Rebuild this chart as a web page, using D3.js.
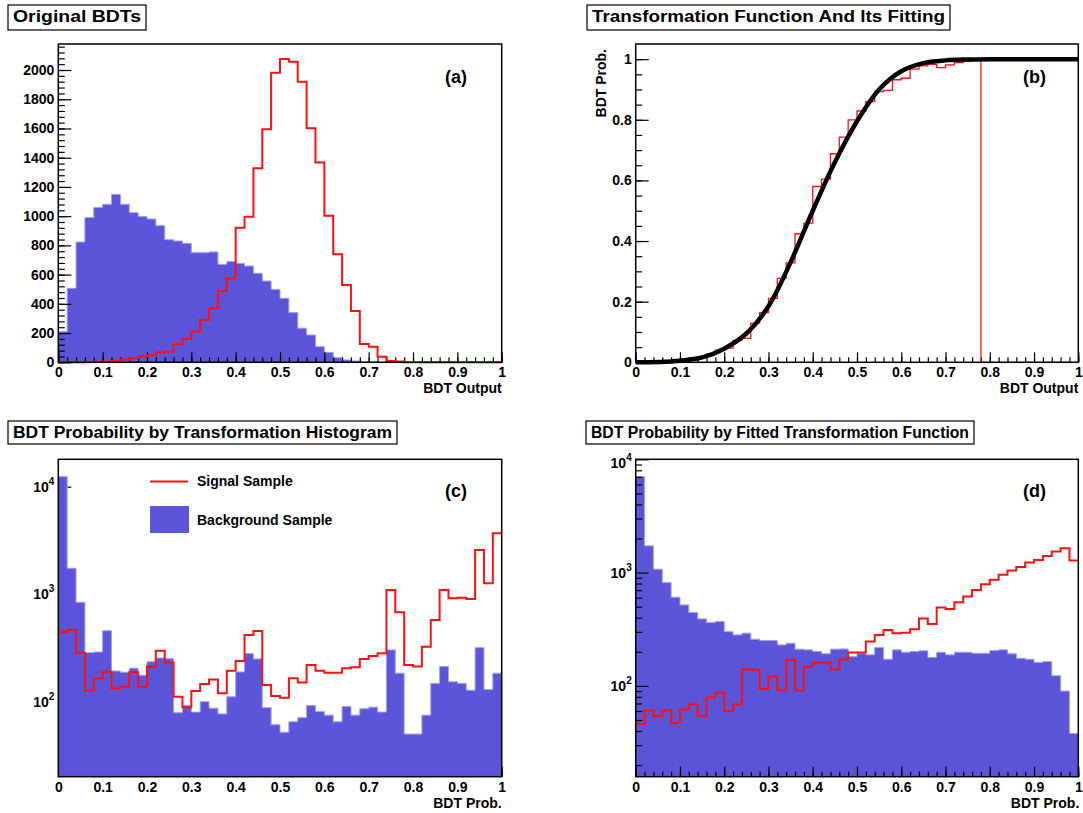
<!DOCTYPE html>
<html>
<head>
<meta charset="utf-8">
<script src="https://cdn.jsdelivr.net/npm/d3@7"></script>
<style>
  body { margin: 0; background: #fff; }
  svg text { font-family: "Liberation Sans", Arial, Helvetica, sans-serif; font-weight: bold; fill: #000; }
</style>
</head>
<body>
<svg id="chart" width="1083" height="813"></svg>
<script>
// ---------------- data ----------------
const binWidth = 0.02;                       // 50 bins on [0, 1]
const xTickLabels = ["0", "0.1", "0.2", "0.3", "0.4", "0.5", "0.6", "0.7", "0.8", "0.9", "1"];
const countTickLabels = ["0", "200", "400", "600", "800", "1000", "1200", "1400", "1600", "1800", "2000"];
const probTickLabels = ["0", "0.2", "0.4", "0.6", "0.8", "1"];
const logTickValues = [100, 1000, 10000];
const logTickExponents = ["2", "3", "4"];
const logMinorTicks = [20, 30, 40, 50, 60, 70, 80, 90, 200, 300, 400, 500, 600, 700, 800, 900,
                       2000, 3000, 4000, 5000, 6000, 7000, 8000, 9000];

// (a) original BDT output
const backgroundBDT = [210, 506, 823, 990, 1060, 1081, 1149, 1081, 1024, 997,
                       981, 935, 839, 830, 814, 750, 750, 755, 670, 689,
                       677, 659, 609, 556, 499, 438, 340, 233, 187, 107,
                       68, 31, 16, 9, 5, 3, 2, 1, 0, 0,
                       0, 0, 0, 0, 0, 0, 0, 0, 0, 0];
const signalBDT = [0, 0, 1, 2, 3, 5, 9, 20, 27, 39,
                   48, 68, 73, 123, 160, 210, 289, 369, 488, 575,
                   921, 996, 1327, 1594, 1982, 2075, 2057, 1920, 1601, 1368,
                   1003, 739, 529, 351, 125, 107, 38, 9, 5, 0,
                   0, 0, 0, 0, 0, 0, 0, 0, 0, 0];

// (b) transformation histogram and its fitted function
const transformHist = [0, 0, 0.001, 0.002, 0.003, 0.005, 0.008, 0.018, 0.026, 0.04,
                       0.047, 0.072, 0.079, 0.129, 0.164, 0.211, 0.277, 0.328, 0.424, 0.459,
                       0.58, 0.604, 0.688, 0.743, 0.80, 0.829, 0.86, 0.893, 0.897, 0.932,
                       0.937, 0.967, 0.978, 0.983, 0.972, 0.981, 0.989, 0.994, 1.0, 0,
                       0, 0, 0, 0, 0, 0, 0, 0, 0, 0];
const fitX = [0, 0.05, 0.1, 0.15, 0.2, 0.25, 0.3, 0.35, 0.4, 0.45, 0.5, 0.55, 0.6, 0.65, 0.7, 0.75, 0.8, 0.9, 1.0];
const fitY = [0, 0.001, 0.005, 0.016, 0.045, 0.095, 0.185, 0.33, 0.5, 0.66, 0.795, 0.9, 0.96, 0.987, 0.996, 0.999, 1, 1, 1];

// (c) probability from the transformation histogram
const backgroundProbHist = [12400, 1742, 841, 286, 290, 457, 193, 188, 205, 176,
                            235, 255, 251, 79, 92, 80, 100, 87, 77, 111,
                            189, 280, 250, 88, 61, 52, 65, 71, 92, 81,
                            75, 65, 90, 75, 86, 89, 80, 303, 184, 50,
                            50, 75, 148, 212, 153, 148, 128, 318, 130, 184];
const signalProbHist = [443, 464, 286, 127, 165, 190, 133, 138, 188, 138,
                        212, 298, 231, 111, 89, 126, 146, 161, 120, 194,
                        239, 417, 455, 143, 113, 109, 165, 151, 219, 194,
                        186, 186, 205, 209, 250, 266, 282, 1094, 678, 219,
                        212, 325, 575, 1094, 916, 929, 902, 2576, 1262, 3690];

// (d) probability from the fitted transformation function
const backgroundProbFit = [7030, 1722, 1072, 816, 607, 519, 444, 390, 362, 370,
                           301, 282, 292, 258, 251, 251, 230, 238, 211, 208,
                           201, 192, 211, 212, 181, 194, 188, 218, 172, 208,
                           198, 201, 204, 178, 198, 188, 198, 198, 194, 194,
                           205, 208, 192, 175, 172, 161, 164, 123, 90, 38];
const signalProbFit = [46, 61, 54, 61, 47, 62, 69, 54, 79, 87,
                       60, 69, 140, 138, 94, 121, 91, 170, 91, 148,
                       161, 161, 140, 170, 197, 197, 246, 282, 312, 292,
                       295, 316, 393, 352, 491, 478, 548, 614, 703, 789,
                       863, 955, 1042, 1122, 1225, 1294, 1403, 1532, 1641, 1276];

// ---------------- style ----------------
const BLUE = "#5a55d9";
const BLUE_EDGE = "#a19eef";
const RED = "#ff1010";

const svg = d3.select("#chart");
svg.append("rect").attr("width", 1083).attr("height", 813).attr("fill", "#fff");

const frames = {
  a: { left: 58.3, right: 501.7, top: 44, bottom: 362.3 },
  b: { left: 635.7, right: 1078.3, top: 44, bottom: 362.3 },
  c: { left: 58.3, right: 501.7, top: 459.3, bottom: 776.7 },
  d: { left: 635.7, right: 1078.3, top: 459.3, bottom: 776.7 }
};

const xMajor = xTickLabels.map(Number);
const xMinor = d3.range(0, 1.0001, binWidth);

function makeX(f) { return d3.scaleLinear().domain([0, 1]).range([f.left, f.right]); }

function binPoints(vals) {
  const pts = vals.map((v, i) => [i * binWidth, v]);
  pts.push([vals.length * binWidth, vals[vals.length - 1]]);
  return pts;
}

function drawFill(g, vals, x, y, f) {
  const pts = binPoints(vals);
  g.append("path")
    .attr("d", d3.area().x(d => x(d[0])).y0(f.bottom).y1(d => y(d[1])).curve(d3.curveStepAfter)(pts))
    .attr("fill", BLUE);
  g.append("path")
    .attr("d", d3.line().x(d => x(d[0])).y(d => y(d[1])).curve(d3.curveStepAfter)(pts))
    .attr("fill", "none").attr("stroke", BLUE_EDGE).attr("stroke-width", 1);
}

// histogram outline; the end drops to the baseline only when asked
function drawStep(g, vals, x, y, base, width, closeEnds) {
  let pts = binPoints(vals);
  if (closeEnds) pts = [[0, base]].concat(pts, [[vals.length * binWidth, base]]);
  g.append("path")
    .attr("d", d3.line().x(d => x(d[0])).y(d => y(d[1])).curve(d3.curveStepAfter)(pts))
    .attr("fill", "none").attr("stroke", RED).attr("stroke-width", width)
    .attr("stroke-linejoin", "miter");
}

function styleAxis(sel) {
  sel.select(".domain").remove();
  sel.selectAll("line").attr("stroke", "#000").attr("stroke-width", 1.2);
  sel.selectAll("text").attr("font-size", 14).attr("font-family", null).attr("fill", "#000");
}

function xAxes(g, f, x) {
  const gx = g.append("g").attr("transform", `translate(0,${f.bottom})`);
  gx.append("g").call(d3.axisBottom(x).tickValues(xMinor).tickSize(-5).tickSizeOuter(0).tickFormat(""))
    .call(styleAxis);
  gx.append("g").call(d3.axisBottom(x).tickValues(xMajor).tickSize(-10).tickSizeOuter(0).tickPadding(5)
      .tickFormat((d, i) => xTickLabels[i]))
    .call(styleAxis);
}

function yLinearAxes(g, f, y, majorLabels, minorValues) {
  const gy = g.append("g").attr("transform", `translate(${f.left},0)`);
  gy.append("g").call(d3.axisLeft(y).tickValues(minorValues).tickSize(-6.5).tickSizeOuter(0).tickFormat(""))
    .call(styleAxis);
  gy.append("g").call(d3.axisLeft(y).tickValues(majorLabels.map(Number)).tickSize(-13).tickSizeOuter(0)
      .tickPadding(4).tickFormat((d, i) => majorLabels[i]))
    .call(styleAxis);
}

function yLogAxes(g, f, y) {
  const [lo, hi] = y.domain();
  const gy = g.append("g").attr("transform", `translate(${f.left},0)`);
  gy.append("g").call(d3.axisLeft(y).tickValues(logMinorTicks.filter(v => v >= lo && v <= hi))
      .tickSize(-6.5).tickSizeOuter(0).tickFormat(""))
    .call(styleAxis);
  gy.append("g").call(d3.axisLeft(y).tickValues(logTickValues.filter(v => v >= lo && v <= hi))
      .tickSize(-13).tickSizeOuter(0).tickFormat(""))
    .call(styleAxis);
}

function yLogLabels(g, f, y) {
  const [lo, hi] = y.domain();
  logTickValues.forEach((v, i) => {
    if (v < lo || v > hi * 1.001) return;
    let yy = y(v);
    if (yy - f.top < 3) yy += 4;
    const t = g.append("text")
      .attr("x", f.left - 4).attr("y", yy).attr("dy", "0.36em")
      .attr("text-anchor", "end").attr("font-size", 14);
    t.append("tspan").text("10");
    t.append("tspan").attr("dy", -7).attr("font-size", 10).text(logTickExponents[i]);
  });
}

function frame(g, f) {
  g.append("rect")
    .attr("x", f.left).attr("y", f.top)
    .attr("width", f.right - f.left).attr("height", f.bottom - f.top)
    .attr("fill", "none").attr("stroke", "#000").attr("stroke-width", 1.5);
}

function titleBox(x0, x1, y0, y1, label) {
  svg.append("rect").attr("x", x0).attr("y", y0).attr("width", x1 - x0).attr("height", y1 - y0)
    .attr("fill", "#fff").attr("stroke", "#000").attr("stroke-width", 1.2);
  svg.append("text").attr("x", (x0 + x1) / 2).attr("y", y0 + 16.5)
    .attr("text-anchor", "middle").attr("font-size", 16)
    .attr("textLength", x1 - x0 - 10).attr("lengthAdjust", "spacingAndGlyphs")
    .text(label);
}

function axisTitle(x, y, label) {
  svg.append("text").attr("x", x).attr("y", y).attr("text-anchor", "end").attr("font-size", 14).text(label);
}

function panelTag(x, y, label) {
  svg.append("text").attr("x", x).attr("y", y).attr("font-size", 18).text(label);
}

// ---------------- (a) original BDTs ----------------
{
  const f = frames.a, g = svg.append("g");
  const x = makeX(f);
  const y = d3.scaleLinear().domain([0, 2178]).range([f.bottom, f.top]);
  drawFill(g, backgroundBDT, x, y, f);
  xAxes(g, f, x);
  yLinearAxes(g, f, y, countTickLabels, d3.range(0, 2178, 40));
  drawStep(g, signalBDT, x, y, 0, 2, true);
  frame(g, f);
  axisTitle(f.right, 393, "BDT Output");
  panelTag(445, 83, "(a)");
  titleBox(8, 146, 5, 30, "Original BDTs");
}

// ---------------- (b) transformation function ----------------
{
  const f = frames.b, g = svg.append("g");
  const x = makeX(f);
  const y = d3.scaleLinear().domain([0, 1.05]).range([f.bottom, f.top]);
  xAxes(g, f, x);
  yLinearAxes(g, f, y, probTickLabels, d3.range(0, 1.0001, 0.05));
  drawStep(g, transformHist, x, y, 0, 1.3, true);
  const fitPts = fitX.map((v, i) => [v, fitY[i]]);
  g.append("path")
    .attr("d", d3.line().x(d => x(d[0])).y(d => y(d[1])).curve(d3.curveCatmullRom.alpha(0.5))(fitPts))
    .attr("fill", "none").attr("stroke", "#000").attr("stroke-width", 4.5);
  frame(g, f);
  axisTitle(f.right, 393, "BDT Output");
  svg.append("text").attr("transform", "translate(605.5,49) rotate(-90)")
    .attr("text-anchor", "end").attr("font-size", 14).text("BDT Prob.");
  panelTag(1023, 83, "(b)");
  titleBox(587, 950, 5, 30, "Transformation Function And Its Fitting");
}

// ---------------- (c) probability by transformation histogram ----------------
{
  const f = frames.c, g = svg.append("g");
  const x = makeX(f);
  const y = d3.scaleLog().domain([20.06, 17980]).range([f.bottom, f.top]).clamp(true);
  xAxes(g, f, x);
  yLogAxes(g, f, y);
  drawFill(g, backgroundProbHist, x, y, f);
  drawStep(g, signalProbHist, x, y, 20.06, 2, false);
  frame(g, f);
  yLogLabels(svg, f, y);
  axisTitle(f.right, 808, "BDT Prob.");
  panelTag(445, 497, "(c)");
  titleBox(8, 397, 421, 444, "BDT Probability by Transformation Histogram");

  // legend
  svg.append("line").attr("x1", 150).attr("x2", 188).attr("y1", 481.5).attr("y2", 481.5)
    .attr("stroke", RED).attr("stroke-width", 2);
  svg.append("text").attr("x", 197).attr("y", 485.5).attr("font-size", 14).text("Signal Sample");
  svg.append("rect").attr("x", 150).attr("y", 506).attr("width", 39).attr("height", 27).attr("fill", BLUE);
  svg.append("text").attr("x", 197).attr("y", 525).attr("font-size", 14).text("Background Sample");
}

// ---------------- (d) probability by fitted function ----------------
{
  const f = frames.d, g = svg.append("g");
  const x = makeX(f);
  const y = d3.scaleLog().domain([15.8, 10000]).range([f.bottom, f.top]).clamp(true);
  drawFill(g, backgroundProbFit, x, y, f);
  xAxes(g, f, x);
  yLogAxes(g, f, y);
  drawStep(g, signalProbFit, x, y, 15.8, 2, false);
  frame(g, f);
  yLogLabels(svg, f, y);
  axisTitle(f.right + 1, 808, "BDT Prob.");
  panelTag(1023, 497, "(d)");
  titleBox(586, 974, 421, 444, "BDT Probability by Fitted Transformation Function");
}
</script>
</body>
</html>
